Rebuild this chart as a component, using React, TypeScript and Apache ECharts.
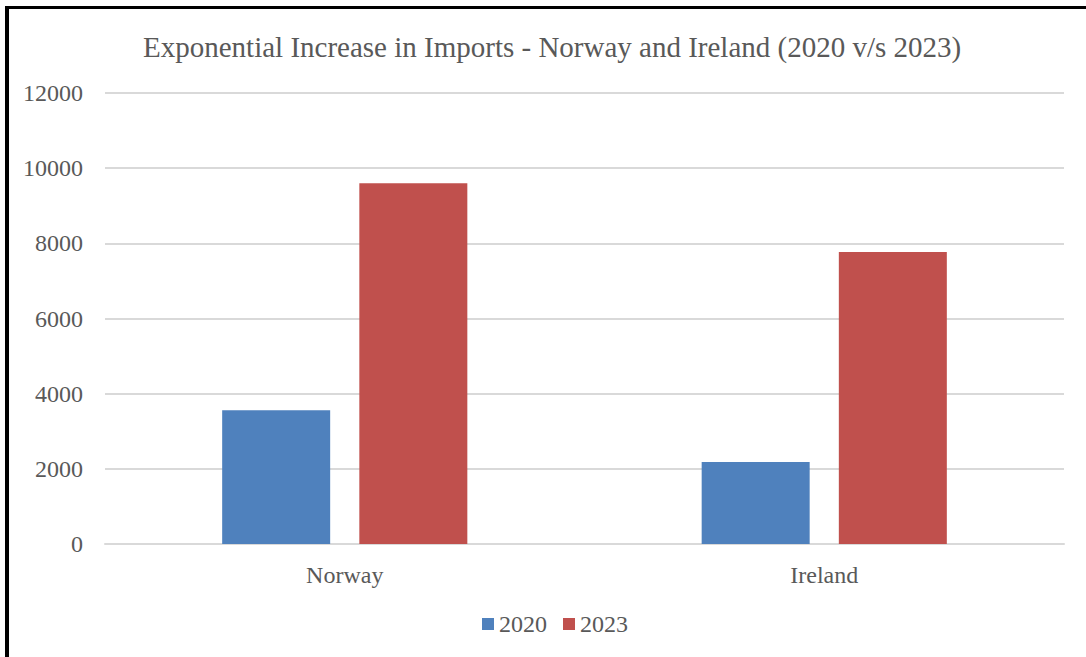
import React, { useEffect, useRef } from "react";
import * as echarts from "echarts";

const categories = ["Norway", "Ireland"];
const seriesNames = ["2020", "2023"];
const values2020 = [3560, 2180];
const values2023 = [9600, 7770];
const colors = ["#4f81bd", "#c0504d"];

export default function App() {
  const ref = useRef<HTMLDivElement>(null);
  useEffect(() => {
    const chart = echarts.init(ref.current!, null, { renderer: "svg" });
    const font = "'Liberation Serif', 'Times New Roman', serif";
    chart.setOption({
      animation: false,
      backgroundColor: "#ffffff",
      title: {
        text: "Exponential Increase in Imports - Norway and Ireland (2020 v/s 2023)",
        left: 138,
        top: 27,
        textStyle: { fontFamily: font, fontSize: 29, fontWeight: "normal", color: "#595959" },
      },
      legend: {
        data: seriesNames,
        bottom: 16,
        left: 477,
        icon: "rect",
        itemWidth: 12,
        itemHeight: 12,
        itemGap: 16,
        textStyle: { fontFamily: font, fontSize: 24, color: "#595959" },
      },
      grid: { left: 105, right: 22, top: 93, bottom: 113 },
      xAxis: {
        type: "category",
        data: categories,
        axisLine: { show: true, lineStyle: { color: "#d9d9d9", width: 2 } },
        axisTick: { show: false },
        axisLabel: { fontFamily: font, fontSize: 24, color: "#595959", margin: 19 },
      },
      yAxis: {
        type: "value",
        min: 0,
        max: 12000,
        interval: 2000,
        axisLine: { show: false },
        axisTick: { show: false },
        splitLine: { lineStyle: { color: "#d9d9d9", width: 2 } },
        axisLabel: {
          fontFamily: font,
          fontSize: 24,
          color: "#595959",
          margin: 22,
          formatter: (v: number) => String(v),
        },
      },
      series: [
        {
          name: seriesNames[0],
          type: "bar",
          data: values2020,
          barWidth: 108,
          barGap: "27%",
          itemStyle: { color: colors[0] },
        },
        {
          name: seriesNames[1],
          type: "bar",
          data: values2023,
          barWidth: 108,
          barGap: "27%",
          itemStyle: { color: colors[1] },
        },
      ],
      graphic: [
        { type: "line", shape: { x1: 5, y1: 7.5, x2: 1086, y2: 7.5 }, style: { stroke: "#000", lineWidth: 3 } },
        { type: "line", shape: { x1: 7, y1: 6, x2: 7, y2: 657 }, style: { stroke: "#000", lineWidth: 4 } },
      ],
    });
    return () => chart.dispose();
  }, []);
  return (
    <div style={{ position: "fixed", left: 0, top: 0, width: 1086, height: 657 }}>
      <div ref={ref} style={{ width: 1086, height: 657 }} />
    </div>
  );
}
